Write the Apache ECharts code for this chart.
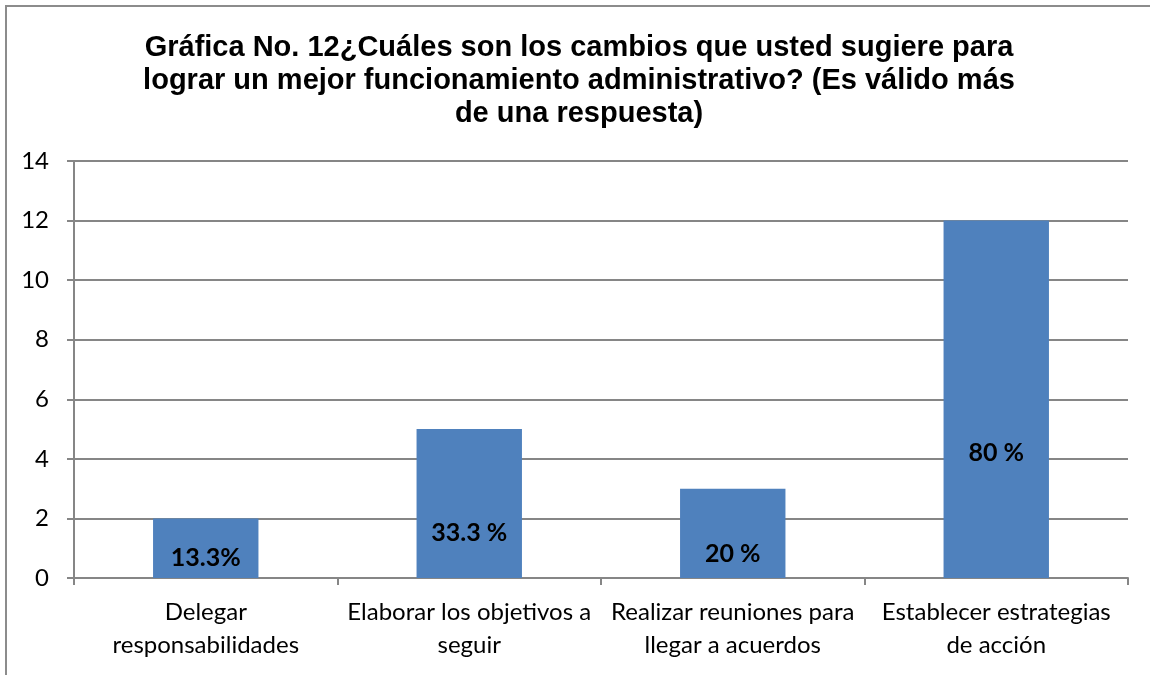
<!DOCTYPE html>
<html>
<head>
<meta charset="utf-8">
<script src="https://cdn.jsdelivr.net/npm/echarts@6/dist/echarts.min.js"></script>
<style>
  html, body { margin: 0; padding: 0; background: #fff; }
  #chart { width: 1150px; height: 675px; }
</style>
</head>
<body>
<div id="chart"></div>
<script>
// datos de la gráfica
var categorias = [
  'Delegar\nresponsabilidades',
  'Elaborar los objetivos a\nseguir',
  'Realizar reuniones para\nllegar a acuerdos',
  'Establecer estrategias\nde acción'
];
var valores = [2, 5, 3, 12];
var etiquetas = ['13.3%', '33.3 %', '20 %', '80 %'];
var yTicks = [0, 2, 4, 6, 8, 10, 12, 14];

// distancia de cada etiqueta desde la base de la barra
var distEtiqueta = [8, 33, 12, 113];

var chart = echarts.init(document.getElementById('chart'));

var option = {
  animation: false,
  backgroundColor: '#fff',
  graphic: [{
    type: 'rect',
    shape: { x: 6, y: 6, width: 1200, height: 700 },
    style: { fill: 'none', stroke: '#8c8c8c', lineWidth: 2 },
    silent: true
  }],
  title: {
    text: 'Gráfica No. 12¿Cuáles son los cambios que usted sugiere para\nlograr un mejor funcionamiento administrativo? (Es válido más\nde una respuesta)',
    left: 574,
    top: 26,
    textAlign: 'center',
    textStyle: {
      fontFamily: "'Liberation Sans', Arial, sans-serif",
      fontWeight: 'bold',
      fontSize: 29,
      lineHeight: 33,
      color: '#000'
    }
  },
  grid: {
    left: 74,
    right: 22,
    top: 161,
    bottom: 97
  },
  xAxis: {
    type: 'category',
    data: categorias,
    axisLine: { lineStyle: { color: '#868686', width: 2 } },
    axisTick: { show: true, length: 7, lineStyle: { color: '#868686', width: 2 } },
    axisLabel: {
      interval: 0,
      margin: 18,
      fontFamily: 'Lato',
      fontSize: 24,
      lineHeight: 33,
      color: '#000'
    }
  },
  yAxis: {
    type: 'value',
    min: yTicks[0],
    max: yTicks[yTicks.length - 1],
    interval: 2,
    axisLine: { show: true, lineStyle: { color: '#868686', width: 2 } },
    axisTick: { show: true, length: 7, lineStyle: { color: '#868686', width: 2 } },
    splitLine: { lineStyle: { color: '#868686', width: 2 } },
    axisLabel: {
      margin: 25,
      fontFamily: 'Lato',
      fontSize: 24,
      color: '#000'
    }
  },
  series: [{
    type: 'bar',
    barWidth: '40%',
    itemStyle: { color: '#4F81BD' },
    data: valores.map(function (v, i) {
      return {
        value: v,
        label: {
          show: true,
          position: 'insideBottom',
          distance: distEtiqueta[i],
          formatter: etiquetas[i],
          fontFamily: 'Lato',
          fontWeight: 'bold',
          fontSize: 25,
          color: '#000'
        }
      };
    })
  }]
};

chart.setOption(option);
</script>
</body>
</html>
